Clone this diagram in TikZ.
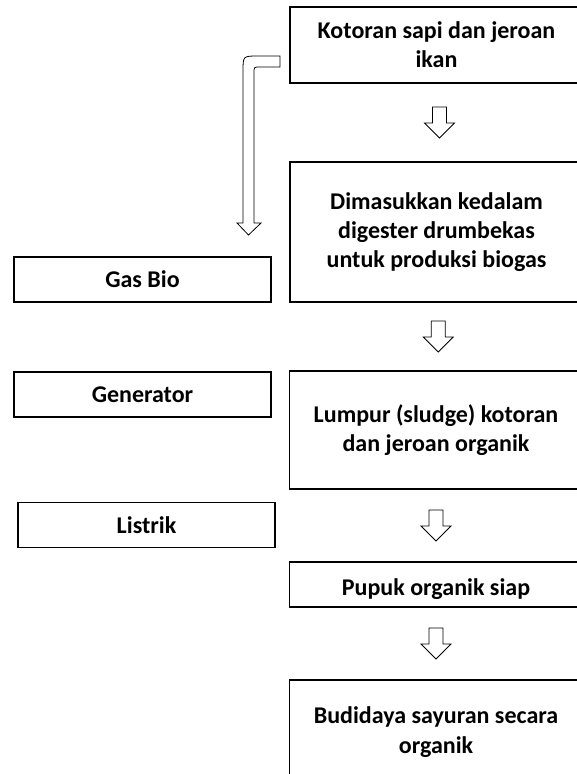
\documentclass[tikz,border=0pt]{standalone}
\usepackage{fontspec}
\setmainfont{Carlito}
\usetikzlibrary{calc}
\tikzset{
  kotak/.style={draw,line width=0.8pt,inner sep=0pt,align=center,
    font=\fontsize{18}{22}\selectfont\bfseries},
  kotakkanan/.style={kotak,minimum width=219.75pt},
  kotakkiri/.style={kotak,minimum width=192.75pt,minimum height=33.75pt},
  garispanah/.style={line width=0.6pt,line join=miter}
}
\begin{document}
\begin{tikzpicture}[x=0.75pt,y=-0.75pt] % 1 unite = 1 pixel
\clip (0,0) rectangle (577,774); % les bords coupent les boites
\useasboundingbox (0,0) rectangle (577,774);
% colonne de droite
\node[kotakkanan,minimum height=57pt] (kotoran) at (436.5,45) {Kotoran sapi dan jeroan\\ikan};
\node[kotakkanan,minimum height=105pt] (digester) at (436.5,232) {Dimasukkan kedalam\\digester drumbekas\\untuk produksi biogas};
\node[kotakkanan,minimum height=88.5pt] (lumpur) at (436,430) {Lumpur (sludge) kotoran\\dan jeroan organik};
\node[kotakkanan,minimum height=33.75pt] (pupuk) at (436,584.5) {};
\begin{scope}
\clip (290,563) rectangle (582,601); % le texte est coupe en bas
\node[font=\fontsize{18}{22}\selectfont\bfseries,anchor=base] (pupuktxt) at (436,595) {Pupuk organik siap};
\end{scope}
\node[kotakkanan,minimum height=78pt] (budidaya) at (436,732) {Budidaya sayuran secara\\organik};
% colonne de gauche
\node[kotakkiri] (gasbio) at (142.5,279.5) {Gas Bio};
\node[kotakkiri] (generator) at (142.5,394.5) {Generator};
\node[kotakkiri] (listrik) at (146.5,525) {Listrik};
% fleches creuses entre les boites
\coordinate (p1) at ($(kotoran.south)!0.5!(digester.north)+(3,0)$);
\coordinate (p2) at ($(digester.south)!0.5!(lumpur.north)+(2,0)$);
\coordinate (p3) at ($(lumpur.south)!0.5!(pupuk.north)$);
\coordinate (p4) at ($(pupuk.south)!0.5!(budidaya.north)$);
\foreach \p in {p1,p2,p3,p4}
  \draw[garispanah] ($(\p)+(-7,-15.5)$) -- ($(\p)+(7,-15.5)$) -- ($(\p)+(7,0.5)$)
    -- ($(\p)+(15,0.5)$) -- ($(\p)+(0,15.5)$) -- ($(\p)+(-15,0.5)$)
    -- ($(\p)+(-7,0.5)$) -- cycle;
% fleche coudee vers Gas Bio
\draw[garispanah] (280,56) -- (258,56) .. controls (243,56) .. (243,71)
  -- (243,223) -- (237,223) -- (248.5,235) -- (261,223) -- (254,223)
  -- (254,73) .. controls (254,67) .. (260,67) -- (280,67) -- cycle;
\end{tikzpicture}
\end{document}
